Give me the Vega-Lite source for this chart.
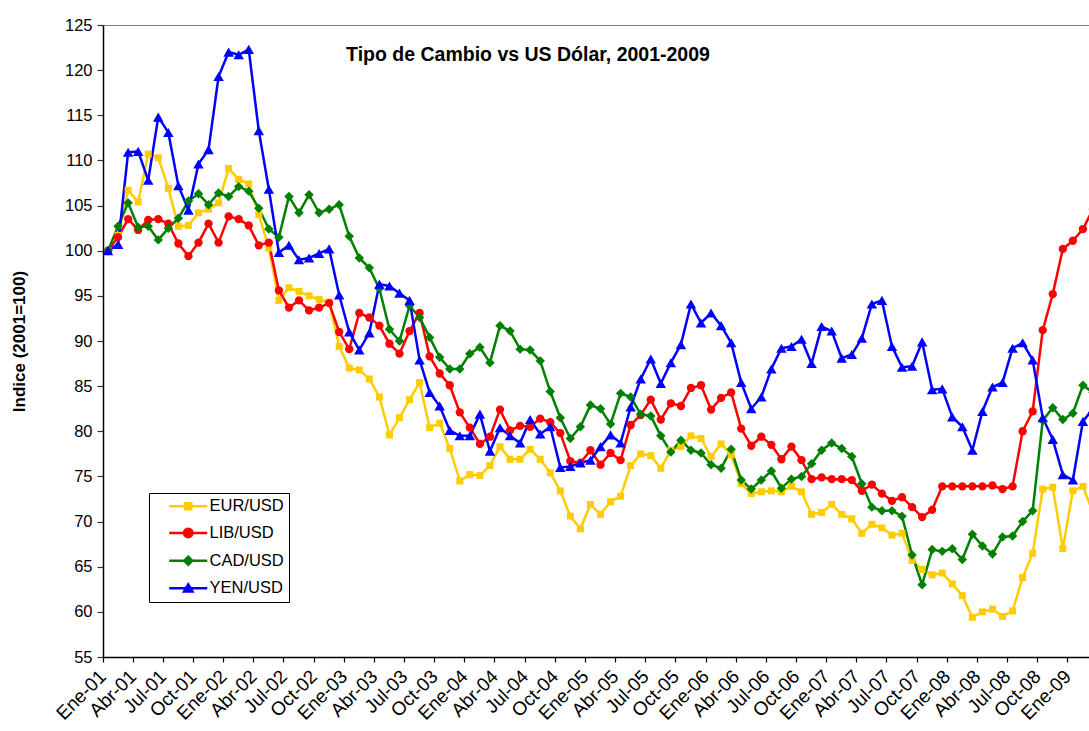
{
  "$schema": "https://vega.github.io/schema/vega-lite/v6.json",
  "autosize": {"type": "none"},
  "padding": {"left": 103, "top": 25, "right": 0, "bottom": 74},
  "width": 986,
  "height": 632,
  "background": "white",
  "title": {"text": "Tipo de Cambio vs US Dólar, 2001-2009", "anchor": "middle", "dx": -68, "dy": 63, "baseline": "alphabetic", "offset": 0, "fontSize": 19.5, "fontWeight": "bold", "font": "Liberation Sans", "color": "black"},
  "config": {"font": "Liberation Sans", "view": {"stroke": "#808080", "strokeWidth": 1}},
  "data": {"values": [
    {"mes": "Ene-01", "EUR/USD": 100, "LIB/USD": 100, "CAD/USD": 100, "YEN/USD": 100},
    {"mes": "Feb-01", "EUR/USD": 101.7, "LIB/USD": 101.5, "CAD/USD": 102.7, "YEN/USD": 100.7},
    {"mes": "Mar-01", "EUR/USD": 106.7, "LIB/USD": 103.5, "CAD/USD": 105.3, "YEN/USD": 110.9},
    {"mes": "Abr-01", "EUR/USD": 105.4, "LIB/USD": 102.3, "CAD/USD": 102.6, "YEN/USD": 111.0},
    {"mes": "May-01", "EUR/USD": 110.7, "LIB/USD": 103.4, "CAD/USD": 102.7, "YEN/USD": 107.8},
    {"mes": "Jun-01", "EUR/USD": 110.3, "LIB/USD": 103.5, "CAD/USD": 101.2, "YEN/USD": 114.8},
    {"mes": "Jul-01", "EUR/USD": 106.9, "LIB/USD": 103.0, "CAD/USD": 102.5, "YEN/USD": 113.1},
    {"mes": "Ago-01", "EUR/USD": 102.7, "LIB/USD": 100.8, "CAD/USD": 103.6, "YEN/USD": 107.2},
    {"mes": "Sep-01", "EUR/USD": 102.8, "LIB/USD": 99.4, "CAD/USD": 105.5, "YEN/USD": 104.5},
    {"mes": "Oct-01", "EUR/USD": 104.2, "LIB/USD": 100.9, "CAD/USD": 106.3, "YEN/USD": 109.6},
    {"mes": "Nov-01", "EUR/USD": 104.6, "LIB/USD": 103.0, "CAD/USD": 105.1, "YEN/USD": 111.2},
    {"mes": "Dic-01", "EUR/USD": 105.3, "LIB/USD": 100.9, "CAD/USD": 106.4, "YEN/USD": 119.3},
    {"mes": "Ene-02", "EUR/USD": 109.1, "LIB/USD": 103.8, "CAD/USD": 106.0, "YEN/USD": 122.0},
    {"mes": "Feb-02", "EUR/USD": 107.9, "LIB/USD": 103.5, "CAD/USD": 107.1, "YEN/USD": 121.7},
    {"mes": "Mar-02", "EUR/USD": 107.4, "LIB/USD": 102.8, "CAD/USD": 106.6, "YEN/USD": 122.3},
    {"mes": "Abr-02", "EUR/USD": 104.0, "LIB/USD": 100.6, "CAD/USD": 104.7, "YEN/USD": 113.3},
    {"mes": "May-02", "EUR/USD": 100.3, "LIB/USD": 100.9, "CAD/USD": 102.4, "YEN/USD": 106.8},
    {"mes": "Jun-02", "EUR/USD": 94.5, "LIB/USD": 95.6, "CAD/USD": 101.5, "YEN/USD": 99.8},
    {"mes": "Jul-02", "EUR/USD": 95.9, "LIB/USD": 93.7, "CAD/USD": 106.0, "YEN/USD": 100.6},
    {"mes": "Ago-02", "EUR/USD": 95.5, "LIB/USD": 94.5, "CAD/USD": 104.2, "YEN/USD": 99.0},
    {"mes": "Sep-02", "EUR/USD": 95.0, "LIB/USD": 93.4, "CAD/USD": 106.2, "YEN/USD": 99.2},
    {"mes": "Oct-02", "EUR/USD": 94.6, "LIB/USD": 93.7, "CAD/USD": 104.2, "YEN/USD": 99.7},
    {"mes": "Nov-02", "EUR/USD": 94.3, "LIB/USD": 94.2, "CAD/USD": 104.6, "YEN/USD": 100.2},
    {"mes": "Dic-02", "EUR/USD": 89.4, "LIB/USD": 91.0, "CAD/USD": 105.1, "YEN/USD": 95.1},
    {"mes": "Ene-03", "EUR/USD": 87.0, "LIB/USD": 89.1, "CAD/USD": 101.6, "YEN/USD": 91.0},
    {"mes": "Feb-03", "EUR/USD": 86.8, "LIB/USD": 93.1, "CAD/USD": 99.2, "YEN/USD": 89.0},
    {"mes": "Mar-03", "EUR/USD": 85.8, "LIB/USD": 92.6, "CAD/USD": 98.1, "YEN/USD": 90.9},
    {"mes": "Abr-03", "EUR/USD": 83.8, "LIB/USD": 91.7, "CAD/USD": 95.8, "YEN/USD": 96.3},
    {"mes": "May-03", "EUR/USD": 79.6, "LIB/USD": 89.7, "CAD/USD": 91.3, "YEN/USD": 96.1},
    {"mes": "Jun-03", "EUR/USD": 81.5, "LIB/USD": 88.6, "CAD/USD": 90.0, "YEN/USD": 95.3},
    {"mes": "Jul-03", "EUR/USD": 83.5, "LIB/USD": 91.1, "CAD/USD": 93.9, "YEN/USD": 94.5},
    {"mes": "Ago-03", "EUR/USD": 85.4, "LIB/USD": 93.1, "CAD/USD": 92.6, "YEN/USD": 87.9},
    {"mes": "Sep-03", "EUR/USD": 80.4, "LIB/USD": 88.3, "CAD/USD": 90.4, "YEN/USD": 84.3},
    {"mes": "Oct-03", "EUR/USD": 80.9, "LIB/USD": 86.4, "CAD/USD": 88.2, "YEN/USD": 82.8},
    {"mes": "Nov-03", "EUR/USD": 78.1, "LIB/USD": 85.1, "CAD/USD": 86.9, "YEN/USD": 80.1},
    {"mes": "Dic-03", "EUR/USD": 74.5, "LIB/USD": 82.1, "CAD/USD": 86.9, "YEN/USD": 79.5},
    {"mes": "Ene-04", "EUR/USD": 75.2, "LIB/USD": 80.4, "CAD/USD": 88.6, "YEN/USD": 79.5},
    {"mes": "Feb-04", "EUR/USD": 75.1, "LIB/USD": 78.6, "CAD/USD": 89.3, "YEN/USD": 81.9},
    {"mes": "Mar-04", "EUR/USD": 76.2, "LIB/USD": 79.4, "CAD/USD": 87.6, "YEN/USD": 77.8},
    {"mes": "Abr-04", "EUR/USD": 78.3, "LIB/USD": 82.4, "CAD/USD": 91.7, "YEN/USD": 80.4},
    {"mes": "May-04", "EUR/USD": 76.9, "LIB/USD": 80.1, "CAD/USD": 91.1, "YEN/USD": 79.5},
    {"mes": "Jun-04", "EUR/USD": 76.9, "LIB/USD": 80.6, "CAD/USD": 89.1, "YEN/USD": 78.7},
    {"mes": "Jul-04", "EUR/USD": 78.0, "LIB/USD": 80.5, "CAD/USD": 89.0, "YEN/USD": 81.3},
    {"mes": "Ago-04", "EUR/USD": 76.9, "LIB/USD": 81.4, "CAD/USD": 87.8, "YEN/USD": 79.7},
    {"mes": "Sep-04", "EUR/USD": 75.4, "LIB/USD": 81.0, "CAD/USD": 84.4, "YEN/USD": 80.5},
    {"mes": "Oct-04", "EUR/USD": 73.4, "LIB/USD": 79.8, "CAD/USD": 81.5, "YEN/USD": 76.0},
    {"mes": "Nov-04", "EUR/USD": 70.6, "LIB/USD": 76.7, "CAD/USD": 79.2, "YEN/USD": 76.1},
    {"mes": "Dic-04", "EUR/USD": 69.2, "LIB/USD": 76.5, "CAD/USD": 80.5, "YEN/USD": 76.5},
    {"mes": "Ene-05", "EUR/USD": 71.9, "LIB/USD": 77.9, "CAD/USD": 82.9, "YEN/USD": 76.8},
    {"mes": "Feb-05", "EUR/USD": 70.8, "LIB/USD": 76.3, "CAD/USD": 82.5, "YEN/USD": 78.3},
    {"mes": "Mar-05", "EUR/USD": 72.2, "LIB/USD": 77.6, "CAD/USD": 80.8, "YEN/USD": 79.6},
    {"mes": "Abr-05", "EUR/USD": 72.8, "LIB/USD": 76.8, "CAD/USD": 84.2, "YEN/USD": 78.7},
    {"mes": "May-05", "EUR/USD": 76.2, "LIB/USD": 80.7, "CAD/USD": 83.8, "YEN/USD": 82.7},
    {"mes": "Jun-05", "EUR/USD": 77.5, "LIB/USD": 81.8, "CAD/USD": 81.9, "YEN/USD": 85.8},
    {"mes": "Jul-05", "EUR/USD": 77.3, "LIB/USD": 83.5, "CAD/USD": 81.7, "YEN/USD": 88.0},
    {"mes": "Ago-05", "EUR/USD": 75.9, "LIB/USD": 81.3, "CAD/USD": 79.5, "YEN/USD": 85.3},
    {"mes": "Sep-05", "EUR/USD": 77.9, "LIB/USD": 83.1, "CAD/USD": 77.7, "YEN/USD": 87.6},
    {"mes": "Oct-05", "EUR/USD": 78.3, "LIB/USD": 82.8, "CAD/USD": 79.0, "YEN/USD": 89.6},
    {"mes": "Nov-05", "EUR/USD": 79.5, "LIB/USD": 84.8, "CAD/USD": 77.9, "YEN/USD": 94.1},
    {"mes": "Dic-05", "EUR/USD": 79.2, "LIB/USD": 85.1, "CAD/USD": 77.6, "YEN/USD": 92.0},
    {"mes": "Ene-06", "EUR/USD": 77.2, "LIB/USD": 82.4, "CAD/USD": 76.3, "YEN/USD": 93.1},
    {"mes": "Feb-06", "EUR/USD": 78.6, "LIB/USD": 83.7, "CAD/USD": 75.9, "YEN/USD": 91.7},
    {"mes": "Mar-06", "EUR/USD": 77.4, "LIB/USD": 84.3, "CAD/USD": 78.0, "YEN/USD": 89.8},
    {"mes": "Abr-06", "EUR/USD": 74.2, "LIB/USD": 80.3, "CAD/USD": 74.6, "YEN/USD": 85.4},
    {"mes": "May-06", "EUR/USD": 73.1, "LIB/USD": 78.4, "CAD/USD": 73.6, "YEN/USD": 82.5},
    {"mes": "Jun-06", "EUR/USD": 73.3, "LIB/USD": 79.4, "CAD/USD": 74.6, "YEN/USD": 83.8},
    {"mes": "Jul-06", "EUR/USD": 73.4, "LIB/USD": 78.5, "CAD/USD": 75.6, "YEN/USD": 86.9},
    {"mes": "Ago-06", "EUR/USD": 73.3, "LIB/USD": 76.9, "CAD/USD": 73.7, "YEN/USD": 89.2},
    {"mes": "Sep-06", "EUR/USD": 73.9, "LIB/USD": 78.3, "CAD/USD": 74.7, "YEN/USD": 89.4},
    {"mes": "Oct-06", "EUR/USD": 73.3, "LIB/USD": 76.8, "CAD/USD": 75.0, "YEN/USD": 90.2},
    {"mes": "Nov-06", "EUR/USD": 70.8, "LIB/USD": 74.7, "CAD/USD": 76.4, "YEN/USD": 87.5},
    {"mes": "Dic-06", "EUR/USD": 71.0, "LIB/USD": 74.9, "CAD/USD": 77.9, "YEN/USD": 91.6},
    {"mes": "Ene-07", "EUR/USD": 71.9, "LIB/USD": 74.7, "CAD/USD": 78.7, "YEN/USD": 91.1},
    {"mes": "Feb-07", "EUR/USD": 70.8, "LIB/USD": 74.7, "CAD/USD": 78.1, "YEN/USD": 88.1},
    {"mes": "Mar-07", "EUR/USD": 70.3, "LIB/USD": 74.6, "CAD/USD": 77.2, "YEN/USD": 88.5},
    {"mes": "Abr-07", "EUR/USD": 68.7, "LIB/USD": 73.4, "CAD/USD": 74.2, "YEN/USD": 90.3},
    {"mes": "May-07", "EUR/USD": 69.7, "LIB/USD": 74.1, "CAD/USD": 71.6, "YEN/USD": 94.1},
    {"mes": "Jun-07", "EUR/USD": 69.3, "LIB/USD": 73.1, "CAD/USD": 71.2, "YEN/USD": 94.5},
    {"mes": "Jul-07", "EUR/USD": 68.5, "LIB/USD": 72.3, "CAD/USD": 71.2, "YEN/USD": 89.4},
    {"mes": "Ago-07", "EUR/USD": 68.7, "LIB/USD": 72.7, "CAD/USD": 70.6, "YEN/USD": 87.1},
    {"mes": "Sep-07", "EUR/USD": 65.7, "LIB/USD": 71.6, "CAD/USD": 66.3, "YEN/USD": 87.2},
    {"mes": "Oct-07", "EUR/USD": 64.7, "LIB/USD": 70.5, "CAD/USD": 63.0, "YEN/USD": 89.9},
    {"mes": "Nov-07", "EUR/USD": 64.1, "LIB/USD": 71.3, "CAD/USD": 66.9, "YEN/USD": 84.6},
    {"mes": "Dic-07", "EUR/USD": 64.3, "LIB/USD": 73.9, "CAD/USD": 66.7, "YEN/USD": 84.7},
    {"mes": "Ene-08", "EUR/USD": 63.1, "LIB/USD": 73.9, "CAD/USD": 67.0, "YEN/USD": 81.6},
    {"mes": "Feb-08", "EUR/USD": 61.8, "LIB/USD": 73.9, "CAD/USD": 65.8, "YEN/USD": 80.5},
    {"mes": "Mar-08", "EUR/USD": 59.4, "LIB/USD": 73.9, "CAD/USD": 68.6, "YEN/USD": 77.9},
    {"mes": "Abr-08", "EUR/USD": 60.0, "LIB/USD": 73.9, "CAD/USD": 67.3, "YEN/USD": 82.2},
    {"mes": "May-08", "EUR/USD": 60.3, "LIB/USD": 74.0, "CAD/USD": 66.4, "YEN/USD": 84.9},
    {"mes": "Jun-08", "EUR/USD": 59.5, "LIB/USD": 73.6, "CAD/USD": 68.3, "YEN/USD": 85.4},
    {"mes": "Jul-08", "EUR/USD": 60.1, "LIB/USD": 73.9, "CAD/USD": 68.4, "YEN/USD": 89.2},
    {"mes": "Ago-08", "EUR/USD": 63.8, "LIB/USD": 80.0, "CAD/USD": 70.0, "YEN/USD": 89.8},
    {"mes": "Sep-08", "EUR/USD": 66.5, "LIB/USD": 82.2, "CAD/USD": 71.2, "YEN/USD": 87.9},
    {"mes": "Oct-08", "EUR/USD": 73.6, "LIB/USD": 91.2, "CAD/USD": 81.2, "YEN/USD": 81.5},
    {"mes": "Nov-08", "EUR/USD": 73.8, "LIB/USD": 95.2, "CAD/USD": 82.6, "YEN/USD": 79.1},
    {"mes": "Dic-08", "EUR/USD": 67.0, "LIB/USD": 100.2, "CAD/USD": 81.3, "YEN/USD": 75.2},
    {"mes": "Ene-09", "EUR/USD": 73.4, "LIB/USD": 101.1, "CAD/USD": 82.0, "YEN/USD": 74.6},
    {"mes": "Feb-09", "EUR/USD": 73.9, "LIB/USD": 102.4, "CAD/USD": 85.1, "YEN/USD": 81.1},
    {"mes": "Mar-09", "EUR/USD": 71.0, "LIB/USD": 104.6, "CAD/USD": 84.3, "YEN/USD": 82.5}
  ]},
  "transform": [{"fold": ["EUR/USD", "LIB/USD", "CAD/USD", "YEN/USD"], "as": ["serie", "valor"]}],
  "encoding": {
    "x": {
      "field": "mes", "type": "ordinal", "sort": null, "bandPosition": 0.5, "title": null,
      "scale": {"type": "band", "paddingInner": 0, "paddingOuter": 0, "range": [0, 995]},
      "axis": {
        "values": ["Ene-01","Abr-01","Jul-01","Oct-01","Ene-02","Abr-02","Jul-02","Oct-02","Ene-03","Abr-03","Jul-03","Oct-03","Ene-04","Abr-04","Jul-04","Oct-04","Ene-05","Abr-05","Jul-05","Oct-05","Ene-06","Abr-06","Jul-06","Oct-06","Ene-07","Abr-07","Jul-07","Oct-07","Ene-08","Abr-08","Jul-08","Oct-08","Ene-09"],
        "bandPosition": 0, "labelAngle": -45, "labelAlign": "right", "labelBaseline": "middle",
        "labelOffset": -5, "labelPadding": 11, "labelFontSize": 19, "labelColor": "black", "labelFont": "Liberation Sans",
        "labelOverlap": false, "labelBound": false,
        "tickSize": 5, "tickColor": "black", "tickWidth": 1.2,
        "domainColor": "black", "domainWidth": 1.5, "grid": false
      }
    },
    "y": {
      "field": "valor", "type": "quantitative", "title": "Indice (2001=100)",
      "scale": {"domain": [55, 125], "nice": false, "zero": false},
      "axis": {
        "values": [55, 60, 65, 70, 75, 80, 85, 90, 95, 100, 105, 110, 115, 120, 125],
        "labelFontSize": 16.5, "labelColor": "black", "labelFont": "Liberation Sans", "labelPadding": 5, "labelOverlap": false,
        "tickSize": 6, "tickColor": "#333333", "tickWidth": 1.2,
        "domainColor": "black", "domainWidth": 1.5, "grid": false,
        "titleFontSize": 17, "titleFontWeight": "bold", "titleColor": "black", "titleFont": "Liberation Sans",
        "titleX": -79, "titleBaseline": "alphabetic", "titleAngle": -90, "titleAlign": "center"
      }
    }
  },
  "layer": [
    {
      "mark": {"type": "line", "strokeWidth": 2.5, "clip": true},
      "encoding": {
        "order": {"value": null},
        "color": {
          "field": "serie", "type": "nominal", "legend": null,
          "scale": {"domain": ["EUR/USD", "LIB/USD", "CAD/USD", "YEN/USD"], "range": ["#FFCC00", "#FF0000", "#008000", "#0000FF"]}
        }
      }
    },
    {
      "mark": {"type": "point", "filled": true, "opacity": 1, "clip": true},
      "encoding": {
        "color": {"field": "serie", "type": "nominal", "legend": null},
        "shape": {"field": "serie", "type": "nominal", "legend": null,
          "scale": {"domain": ["EUR/USD", "LIB/USD", "CAD/USD", "YEN/USD"], "range": ["square", "circle", "diamond", "triangle-up"]}},
        "size": {"field": "serie", "type": "nominal", "legend": null,
          "scale": {"domain": ["EUR/USD", "LIB/USD", "CAD/USD", "YEN/USD"], "range": [49, 110, 72, 100]}}
      }
    },
    {
      "mark": {"type": "point", "opacity": 0, "strokeWidth": 2.5, "clip": true},
      "encoding": {
        "fill": {"field": "serie", "type": "nominal",
          "scale": {"domain": ["EUR/USD", "LIB/USD", "CAD/USD", "YEN/USD"], "range": ["#FFCC00", "#FF0000", "#008000", "#0000FF"]},
          "legend": {"title": null, "orient": "none", "legendX": 46, "legendY": 468, "direction": "vertical",
            "strokeColor": "black", "fillColor": "white", "padding": 5, "rowPadding": 8.7,
            "symbolSize": 100, "symbolStrokeWidth": 2.5, "symbolOpacity": 1, "symbolOffset": 26, "labelOffset": 13,
            "labelExpr": "datum.label + '\u2002\u00a0'",
            "labelFontSize": 16.5, "labelColor": "black", "labelFont": "Liberation Sans"}},
        "stroke": {"field": "serie", "type": "nominal",
          "scale": {"domain": ["EUR/USD", "LIB/USD", "CAD/USD", "YEN/USD"], "range": ["#FFCC00", "#FF0000", "#008000", "#0000FF"]},
          "legend": {"title": null, "orient": "none", "legendX": 46, "legendY": 468, "direction": "vertical",
            "strokeColor": "black", "fillColor": "white", "padding": 5, "rowPadding": 8.7,
            "symbolSize": 100, "symbolStrokeWidth": 2.5, "symbolOpacity": 1, "symbolOffset": 26, "labelOffset": 13,
            "labelExpr": "datum.label + '\u2002\u00a0'",
            "labelFontSize": 16.5, "labelColor": "black", "labelFont": "Liberation Sans"}},
        "shape": {"field": "serie", "type": "nominal",
          "scale": {"domain": ["EUR/USD", "LIB/USD", "CAD/USD", "YEN/USD"], "range": [
            "M-3.8,0H3.8M-0.6,-0.6H0.6V0.6H-0.6Z",
            "M-3.8,0H3.8M-0.85,0A0.85,0.85 0 1,0 0.85,0A0.85,0.85 0 1,0 -0.85,0Z",
            "M-3.8,0H3.8M0,-0.8L0.8,0L0,0.8L-0.8,0Z",
            "M-3.8,0H3.8M0,-0.8L0.85,0.65L-0.85,0.65Z"]},
          "legend": {"title": null, "orient": "none", "legendX": 46, "legendY": 468, "direction": "vertical",
            "strokeColor": "black", "fillColor": "white", "padding": 5, "rowPadding": 8.7,
            "symbolSize": 100, "symbolStrokeWidth": 2.5, "symbolOpacity": 1, "symbolOffset": 26, "labelOffset": 13,
            "labelExpr": "datum.label + '\u2002\u00a0'",
            "labelFontSize": 16.5, "labelColor": "black", "labelFont": "Liberation Sans"}}
      }
    }
  ],
  "resolve": {"scale": {"shape": "independent", "fill": "independent", "stroke": "independent"}}
}
